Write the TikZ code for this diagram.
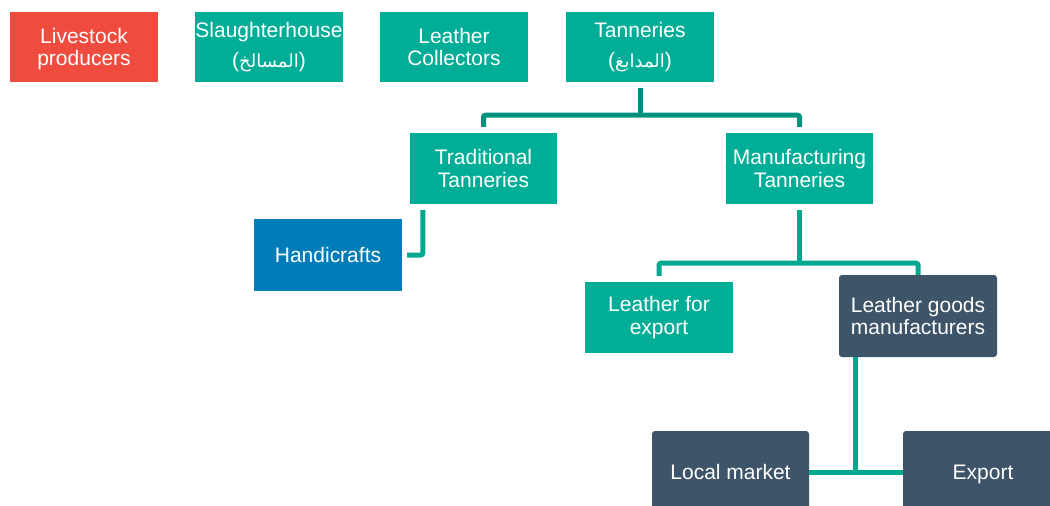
\documentclass[tikz,border=0pt]{standalone}
\usepackage{fontspec}
\setmainfont{Liberation Sans}
\newfontfamily\arabicfont[Script=Arabic]{DejaVu Sans}
\TeXXeTstate=1
\usetikzlibrary{calc}
\definecolor{redbox}{HTML}{F04B3F}
\definecolor{tealbox}{HTML}{00AE97}
\definecolor{bluebox}{HTML}{007DB8}
\definecolor{slatebox}{HTML}{3E5468}
\definecolor{lineA}{HTML}{00907E}
\definecolor{lineB}{HTML}{00A890}
\newcommand{\arab}[1]{{\arabicfont\fontsize{18}{20}\selectfont\beginR #1\endR}}
\tikzset{
  box/.style={rectangle, inner sep=0pt, text=white, align=center,
    font=\fontsize{21}{22.5}\selectfont, minimum width=148pt, minimum height=70pt},
  redb/.style={box, fill=redbox},
  tealb/.style={box, fill=tealbox},
  blueb/.style={box, fill=bluebox},
  slateb/.style={box, fill=slatebox, rounded corners=3pt},
  linkA/.style={draw=lineA, line width=5pt, rounded corners=2pt},
  linkB/.style={draw=lineB, line width=5pt, rounded corners=2pt},
}
\begin{document}
\begin{tikzpicture}[x=1pt,y=-1pt]
\useasboundingbox (0,0) rectangle (1050,506);
% top row
\node[redb, text depth=0pt] (live) at (84,47) {Livestock\\producers};
\node[tealb] (slau) at (269,47) {Slaughterhouse\\[7pt](\arab{المسالخ})};
\node[tealb] (coll) at (454,47) {Leather\\Collectors};
\node[tealb] (tan)  at (640,47) {Tanneries\\[7pt](\arab{المدابغ})};
% second row
\node[tealb, minimum width=147pt, minimum height=71pt] (trad) at (483.5,168.5) {Traditional\\Tanneries};
\node[tealb, minimum width=147pt, minimum height=71pt] (manu) at (799.5,168.5) {Manufacturing\\Tanneries};
\node[blueb, minimum width=148pt, minimum height=72pt] (hand) at (328,255) {Handicrafts};
% third row
\node[tealb, minimum width=148pt, minimum height=71pt] (lfe) at (659,317.5) {Leather for\\export};
\node[slateb, minimum width=158pt, minimum height=82pt] (lgm) at (918,316) {Leather goods\\manufacturers};
% bottom row
\node[slateb, minimum width=157pt, minimum height=82pt] (lm) at (730.5,472) {Local market};
\node[slateb, minimum width=157pt, minimum height=82pt, text depth=0pt] (ex) at (981.5,472) {\hspace*{3pt}Export};
% connectors
\draw[linkA] ($(tan.south)+(0,6)$) -- ++(0,27) coordinate (j1);
\draw[linkA] ($(trad.north)+(0,-6)$) |- (j1) -| ($(manu.north)+(0,-6)$);
\draw[linkB] ($(manu.south)+(0,6)$) -- ++(0,53) coordinate (j2);
\draw[linkB] ($(lfe.north)+(0,-6)$) |- (j2) -| (lgm.north);
\draw[linkB] ($(trad.south west)+(13,6)$) |- ($(hand.east)+(5,0)$);
\draw[linkB, rounded corners=0pt] ($(lgm.south west)+(17,0)$) |- (lm.east);
\draw[linkB, rounded corners=0pt] (lm.east) -- (ex.west);
\end{tikzpicture}
\end{document}
